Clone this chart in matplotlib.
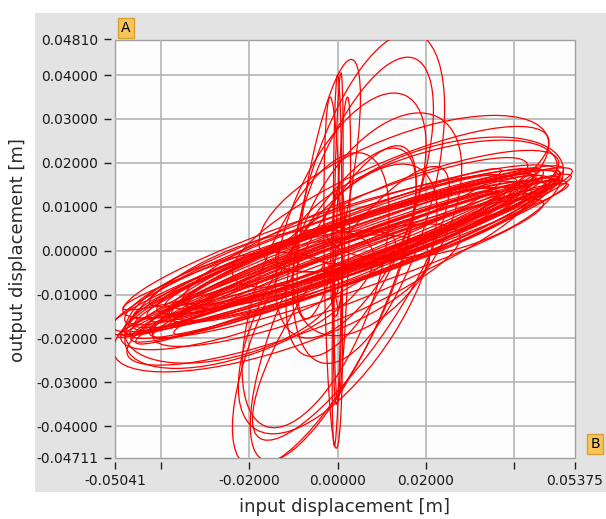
import numpy as np
import matplotlib
matplotlib.use("Agg")
import matplotlib.pyplot as plt
from matplotlib.patches import Ellipse, Rectangle

# axis limits and ticks
x_min, x_max = -0.05041, 0.05375
y_min, y_max = -0.04711, 0.04810
x_ticks = [-0.05041, -0.04, -0.02, 0.0, 0.02, 0.04, 0.05375]
x_labels = ["-0.05041", "", "-0.02000", "0.00000", "0.02000", "", "0.05375"]
y_ticks = [-0.04711, -0.04, -0.03, -0.02, -0.01, 0.0, 0.01, 0.02, 0.03, 0.04, 0.04810]
y_labels = ["%.5f" % v for v in y_ticks]

# loops of the response trace:
# centre x, centre y, major length, minor length, tilt (deg)
band_cx = [0.002, 0.000, 0.004, -0.002, 0.006, 0.001, -0.004, 0.003, 0.000, 0.005,
           -0.001, 0.002, 0.008, -0.003, 0.000, 0.004, 0.007, -0.005, 0.003, 0.001,
           0.006, -0.002, 0.001, -0.001, 0.004, 0.002, -0.003, 0.005, 0.000, 0.003,
           -0.002, 0.006, 0.001, -0.004, 0.002, 0.004]
band_cy = [-0.001, -0.002, 0.000, -0.003, 0.001, 0.001, -0.004, 0.002, 0.000, -0.002,
           0.003, -0.004, 0.003, 0.000, -0.001, 0.004, -0.001, -0.002, 0.001, -0.003,
           0.002, 0.002, -0.001, 0.001, -0.003, 0.003, -0.002, 0.000, 0.002, -0.001,
           -0.001, 0.000, -0.002, 0.001, 0.000, 0.002]
band_w = [0.108, 0.100, 0.098, 0.096, 0.094, 0.104, 0.090, 0.092, 0.086, 0.100,
          0.082, 0.094, 0.090, 0.102, 0.078, 0.084, 0.096, 0.088, 0.106, 0.092,
          0.086, 0.098, 0.104, 0.096, 0.088, 0.094, 0.100, 0.090, 0.080, 0.102,
          0.106, 0.092, 0.098, 0.094, 0.074, 0.100]
band_h = [0.008, 0.012, 0.006, 0.010, 0.014, 0.016, 0.008, 0.005, 0.012, 0.009,
          0.007, 0.011, 0.010, 0.013, 0.004, 0.015, 0.006, 0.011, 0.010, 0.018,
          0.008, 0.007, 0.005, 0.009, 0.007, 0.011, 0.006, 0.013, 0.009, 0.004,
          0.012, 0.008, 0.003, 0.014, 0.006, 0.010]
band_ang = [19.5, 20.0, 19.0, 21.0, 20.0, 19.0, 22.0, 21.0, 18.0, 20.5,
            22.0, 18.5, 19.0, 20.0, 21.0, 22.0, 19.5, 20.5, 19.0, 21.5,
            20.0, 18.0, 20.0, 19.5, 21.0, 18.5, 20.5, 19.0, 21.5, 20.0,
            19.0, 20.5, 20.0, 18.5, 21.0, 19.5]

# fatter loops reaching the upper right and lower left
fat_cx = [0.015, 0.020, 0.012, 0.024, -0.015, -0.020, -0.010, -0.024, 0.018, -0.018]
fat_cy = [0.013, 0.011, 0.010, 0.012, -0.012, -0.011, -0.010, -0.013, 0.009, -0.009]
fat_w = [0.070, 0.062, 0.078, 0.056, 0.075, 0.060, 0.080, 0.050, 0.068, 0.066]
fat_h = [0.026, 0.022, 0.020, 0.024, 0.022, 0.024, 0.018, 0.022, 0.016, 0.016]
fat_ang = [22.0, 18.0, 24.0, 16.0, 18.0, 22.0, 20.0, 16.0, 20.0, 20.0]

# tall loops above and below the band
tall_cx = [0.007, 0.005, 0.003, 0.009, -0.002, -0.003, -0.001, 0.000, -0.005, 0.003]
tall_cy = [0.012, 0.010, 0.008, 0.006, 0.014, -0.013, -0.012, -0.011, -0.009, -0.012]
tall_w = [0.078, 0.072, 0.060, 0.056, 0.060, 0.080, 0.078, 0.070, 0.066, 0.074]
tall_h = [0.028, 0.024, 0.026, 0.030, 0.010, 0.025, 0.022, 0.030, 0.026, 0.020]
tall_ang = [74.0, 70.0, 66.0, 60.0, 80.0, 64.0, 66.0, 58.0, 70.0, 56.0]

# nearly vertical loops around x = 0
vert_cx = [0.000, 0.001, -0.001, 0.000, 0.000, 0.000]
vert_cy = [-0.002, 0.000, -0.005, 0.003, 0.000, 0.000]
vert_w = [0.085, 0.070, 0.080, 0.074, 0.030, 0.026]
vert_h = [0.002, 0.003, 0.004, 0.002, 0.003, 0.002]
vert_ang = [89.0, 88.0, 91.0, 90.0, 88.0, 91.0]

fig = plt.figure(figsize=(6.06, 5.19), dpi=100)
fig.patch.set_facecolor("white")

# grey panel behind the plot
panel = Rectangle((35 / 606, 27 / 519), 571 / 606, 479 / 519,
                  transform=fig.transFigure, facecolor="#e3e3e3",
                  edgecolor="none", zorder=-5)
fig.patches.append(panel)

ax = fig.add_axes([115 / 606, 61.5 / 519, 460 / 606, 418 / 519])
ax.set_zorder(1)
ax.set_facecolor("#fcfdfc")
ax.patch.set_edgecolor("#a0a0a0")
ax.patch.set_linewidth(1.0)

groups = [
    (band_cx, band_cy, band_w, band_h, band_ang),
    (fat_cx, fat_cy, fat_w, fat_h, fat_ang),
    (tall_cx, tall_cy, tall_w, tall_h, tall_ang),
    (vert_cx, vert_cy, vert_w, vert_h, vert_ang),
]
for cx, cy, w, h, ang in groups:
    for i in range(len(cx)):
        e = Ellipse((cx[i], cy[i]), w[i], h[i], angle=ang[i],
                    fill=False, edgecolor="#ff0000", linewidth=0.9, zorder=3)
        ax.add_patch(e)

ax.set_xlim(x_min, x_max)
ax.set_ylim(y_min, y_max)

for s in ax.spines.values():
    s.set_visible(False)
ax.spines["left"].set_position(("outward", 3))
ax.spines["bottom"].set_position(("outward", 3))

ax.set_xticks(x_ticks)
ax.set_xticklabels(x_labels)
ax.set_yticks(y_ticks)
ax.set_yticklabels(y_labels)
ax.tick_params(direction="out", length=5, width=1, color="#202020",
               labelsize=10, labelcolor="#1a1a1a", pad=4)

for v in [-0.04, -0.02, 0.0, 0.02, 0.04]:
    ax.axvline(v, color="#b4b4b4", linewidth=1.2, zorder=1)
for v in [-0.04, -0.03, -0.02, -0.01, 0.0, 0.01, 0.02, 0.03, 0.04]:
    ax.axhline(v, color="#b4b4b4", linewidth=1.2, zorder=1)

fig.text(0.5 * (115 + 575) / 606, 1 - 507 / 519, "input displacement [m]",
         ha="center", va="center", fontsize=13, color="#2a2a2a")
fig.text(18 / 606, 1 - 250 / 519, "output displacement [m]", rotation=90,
         ha="center", va="center", fontsize=13, color="#2a2a2a")

# cursor markers
box = dict(boxstyle="square,pad=0.2", facecolor="#f7c55a", edgecolor="#d9a030")
fig.text(126 / 606, 1 - 28 / 519, "A", ha="center", va="center",
         fontsize=10, color="black", bbox=box)
fig.text(595 / 606, 1 - 444 / 519, "B", ha="center", va="center",
         fontsize=10, color="black", bbox=box)

fig.savefig("out.png", dpi=100)
